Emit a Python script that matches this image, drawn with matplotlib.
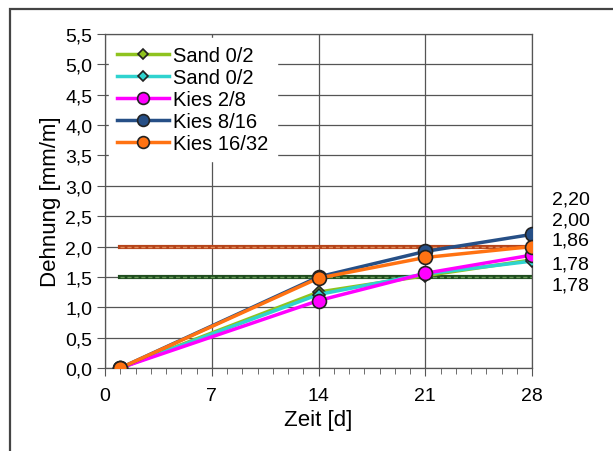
import matplotlib
matplotlib.use("Agg")
import matplotlib.pyplot as plt
from matplotlib.patches import Rectangle
from matplotlib.ticker import MultipleLocator, FuncFormatter

days = [1, 14, 21, 28]
series_names = ["Sand 0/2", "Sand 0/2", "Kies 2/8", "Kies 8/16", "Kies 16/32"]
sand_a = [0.0, 1.25, 1.52, 1.78]
sand_b = [0.0, 1.21, 1.55, 1.76]
kies_2_8 = [0.0, 1.11, 1.56, 1.86]
kies_8_16 = [0.0, 1.50, 1.92, 2.20]
kies_16_32 = [0.0, 1.48, 1.82, 2.00]
ref_high = 2.0
ref_low = 1.5
end_labels = ["2,20", "2,00", "1,86", "1,78", "1,78"]
end_label_y = [2.78, 2.43, 2.10, 1.72, 1.37]

colors = ["#8fc31f", "#2fd3cf", "#ff00ff", "#264f86", "#ff7212"]
markers = ["D", "D", "o", "o", "o"]
msizes = [6, 6, 10, 10, 10]
values = [sand_a, sand_b, kies_2_8, kies_8_16, kies_16_32]

plt.rcParams['font.family'] = ['Liberation Sans', 'DejaVu Sans']

fig = plt.figure(figsize=(6.13, 4.52), dpi=100)
fig.patches.append(Rectangle((10/613, -0.1), 1.2, 1 - 10/452 + 0.1, transform=fig.transFigure,
                             fill=False, edgecolor="#444444", linewidth=1.6))
ax = fig.add_axes([105/613, 1 - 369/452, (532 - 105)/613, (369 - 35)/452])

ax.set_xlim(0, 28)
ax.set_ylim(0, 5.5)
ax.xaxis.set_major_locator(MultipleLocator(7))
ax.xaxis.set_minor_locator(MultipleLocator(1))
ax.yaxis.set_major_locator(MultipleLocator(0.5))
ax.yaxis.set_major_formatter(FuncFormatter(lambda v, p: f"{v:.1f}".replace(".", ",")))
ax.grid(True, which="major", color="#555555", linewidth=0.9)
ax.set_axisbelow(True)
for s in ax.spines.values():
    s.set_color("#555555")
    s.set_linewidth(0.9)
ax.tick_params(which="major", direction="out", length=6, color="#555555", labelsize=14, pad=3)
ax.tick_params(which="minor", axis="x", direction="out", length=4, color="#555555")
ax.tick_params(axis="x", pad=8)

# reference lines
ax.plot([1, 28], [ref_high, ref_high], color="#b5441a", linewidth=3, zorder=2)
ax.plot([1, 28], [ref_high, ref_high], color="#e08a5a", linewidth=1, linestyle=(0, (3, 2)), zorder=2)
ax.plot([1, 28], [ref_low, ref_low], color="#1f4d1f", linewidth=3, zorder=2)
ax.plot([1, 28], [ref_low, ref_low], color="#6a9a5a", linewidth=1, linestyle=(0, (3, 2)), zorder=2)

handles = []
for name, vals, c, m, ms in zip(series_names, values, colors, markers, msizes):
    h, = ax.plot(days, vals, color=c, linewidth=2.5, marker=m, markersize=ms,
                 markerfacecolor=c, markeredgecolor="#222222", markeredgewidth=1.2,
                 label=name, zorder=3)
    handles.append(h)

leg = ax.legend(handles=handles, loc="upper left", bbox_to_anchor=(0.0, 1.0),
                frameon=True, fontsize=14.5, handlelength=2.6, handletextpad=0.2,
                labelspacing=0.15, borderaxespad=0.2, borderpad=0.4, markerscale=0.85)
leg.get_frame().set_edgecolor("white")
leg.get_frame().set_facecolor("white")
leg.get_frame().set_alpha(1)
leg.get_frame().set_boxstyle("square", pad=0)

for t, yv in zip(end_labels, end_label_y):
    ax.text(29.3, yv, t, fontsize=14, va="center", ha="left", clip_on=False)

ax.set_xlabel("Zeit [d]", fontsize=16, labelpad=3)
ax.set_ylabel("Dehnung [mm/m]", fontsize=16, labelpad=3)

fig.savefig("out.png", dpi=100)
